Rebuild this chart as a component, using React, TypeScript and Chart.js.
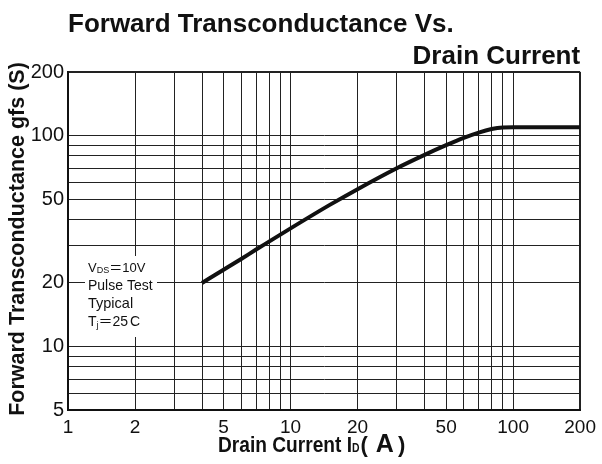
import { useEffect, useRef } from "react";
import { Chart, registerables } from "chart.js";

Chart.register(...registerables);

// ---- data ----
const currentA = [4, 5, 6, 7, 8, 10, 15, 20, 30, 40, 50, 60, 70, 80, 90, 100, 200];
const gfsS = [20, 23.1, 26.0, 28.8, 31.4, 36.3, 46.9, 55.7, 70, 81, 90, 97.5, 103.3, 107.3, 109.2, 109.5, 109.5];
const xGridValues = [1, 2, 3, 4, 5, 6, 7, 8, 9, 10, 20, 30, 40, 50, 60, 70, 80, 90, 100, 200];
const xLabelValues = [1, 2, 5, 10, 20, 50, 100, 200];
const yGridValues = [5, 6, 7, 8, 9, 10, 20, 30, 40, 50, 60, 70, 80, 90, 100, 200];
const yLabelValues = [5, 10, 20, 50, 100, 200];

const titleLine1 = "Forward Transconductance Vs.";
const titleLine2 = "Drain Current";
const yTitle = "Forward Transconductance gfs (S)";

const SANS = '"Liberation Sans", Arial, Helvetica, sans-serif';
const CJK = '"Noto Sans CJK JP", "Liberation Sans", sans-serif';

type Part = { t: string; f: string; dy?: number; gap?: number };

function drawParts(ctx: CanvasRenderingContext2D, x: number, y: number, parts: Part[]) {
  let cx = x;
  for (const p of parts) {
    ctx.font = p.f;
    ctx.fillText(p.t, cx, y + (p.dy || 0));
    cx += ctx.measureText(p.t).width + (p.gap || 0);
  }
  return cx;
}

const textPlugin = {
  id: "texts",
  afterDraw(chart: any) {
    const ctx: CanvasRenderingContext2D = chart.ctx;
    const a = chart.chartArea;
    ctx.save();
    ctx.fillStyle = "#111";
    ctx.textBaseline = "alphabetic";

    // titles
    ctx.font = `bold 26px ${SANS}`;
    ctx.textAlign = "left";
    ctx.fillText(titleLine1, a.left, 32);
    ctx.textAlign = "right";
    ctx.fillText(titleLine2, a.right, 64);
    ctx.textAlign = "left";

    // y axis title
    ctx.save();
    ctx.translate(24, (a.top + a.bottom) / 2 - 2);
    ctx.rotate(-Math.PI / 2);
    ctx.textAlign = "center";
    ctx.font = `bold 21.5px ${SANS}`;
    ctx.fillText(yTitle, 0, 0);
    ctx.restore();

    // x axis title (main words slightly condensed)
    const sx = 0.87;
    ctx.save();
    ctx.translate(218, 452);
    ctx.scale(sx, 1);
    const endScaled = drawParts(ctx, 0, 0, [
      { t: "Drain Current I", f: `bold 22px ${SANS}` },
      { t: "D", f: `bold 12px ${SANS}` },
    ]);
    ctx.restore();
    drawParts(ctx, 218 + endScaled * sx + 1, 452, [
      { t: "(", f: `bold 22px ${SANS}`, gap: 8 },
      { t: "A", f: `bold 25px ${SANS}`, gap: 4 },
      { t: ")", f: `bold 22px ${SANS}` },
    ]);

    // annotation box
    ctx.fillStyle = "#fff";
    ctx.fillRect(85, 256, 72, 81);
    ctx.fillStyle = "#111";
    drawParts(ctx, 88, 272, [
      { t: "V", f: `13px ${SANS}` },
      { t: "DS", f: `9px ${SANS}`, dy: 0.5 },
      { t: "＝", f: `13px ${CJK}` },
      { t: "10V", f: `13px ${SANS}` },
    ]);
    ctx.font = `14px ${SANS}`;
    ctx.fillText("Pulse Test", 88, 290);
    ctx.font = `14.5px ${SANS}`;
    ctx.fillText("Typical", 88, 308);
    drawParts(ctx, 88, 326, [
      { t: "T", f: `14px ${SANS}` },
      { t: "j", f: `9px ${SANS}`, dy: 1.5 },
      { t: "＝", f: `14px ${CJK}` },
      { t: "25", f: `14px ${SANS}`, gap: 2 },
      { t: "C", f: `14px ${SANS}` },
    ]);
    ctx.restore();
  },
};

export default function App() {
  const ref = useRef<HTMLCanvasElement>(null);

  useEffect(() => {
    document.body.style.margin = "0";
    const canvas = ref.current!;
    const chart = new Chart(canvas, {
      type: "line",
      data: {
        datasets: [
          {
            data: currentA.map((x, i) => ({ x, y: gfsS[i] })),
            borderColor: "#111",
            borderWidth: 4,
            pointRadius: 0,
            fill: false,
            cubicInterpolationMode: "monotone",
          } as any,
        ],
      },
      options: {
        animation: false,
        responsive: false,
        layout: { padding: { top: 72, right: 19, left: 0, bottom: 0 } },
        plugins: {
          legend: { display: false },
          tooltip: { enabled: false },
          title: { display: false },
        },
        scales: {
          x: {
            type: "logarithmic",
            min: 1,
            max: 200,
            afterBuildTicks: (s: any) => {
              s.ticks = xGridValues.map((v) => ({ value: v }));
            },
            afterFit: (s: any) => {
              s.height = 54;
            },
            ticks: {
              autoSkip: false,
              maxRotation: 0,
              minRotation: 0,
              padding: 6,
              color: "#111",
              font: { family: SANS, size: 19 },
              callback: (v: any) => (xLabelValues.includes(Number(v)) ? String(v) : ""),
            },
            grid: {
              color: "#222",
              lineWidth: (c: any) => (c.tick && (c.tick.value === 200 || c.tick.value === 1) ? 2 : 1),
              drawTicks: false,
            },
            border: { display: true, color: "#111", width: 2 },
          },
          y: {
            type: "logarithmic",
            min: 5,
            max: 200,
            afterBuildTicks: (s: any) => {
              s.ticks = yGridValues.map((v) => ({ value: v }));
            },
            afterFit: (s: any) => {
              s.width = 68;
            },
            ticks: {
              autoSkip: false,
              padding: 4,
              color: "#111",
              font: { family: SANS, size: 20 },
              callback: (v: any) => (yLabelValues.includes(Number(v)) ? String(v) : ""),
            },
            grid: {
              color: "#222",
              lineWidth: (c: any) => (c.tick && (c.tick.value === 200 || c.tick.value === 5) ? 2 : 1),
              drawTicks: false,
            },
            border: { display: true, color: "#111", width: 2 },
          },
        },
      } as any,
      plugins: [textPlugin],
    });
    return () => chart.destroy();
  }, []);

  return (
    <canvas
      ref={ref}
      width={602}
      height={464}
      style={{ display: "block", width: 602, height: 464 }}
    />
  );
}
